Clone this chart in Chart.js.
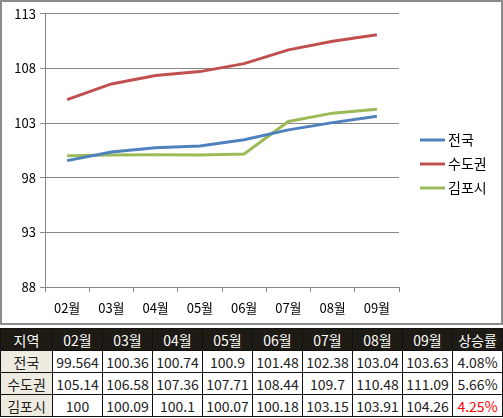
<!DOCTYPE html>
<html>
<head>
<meta charset="utf-8">
<script src="https://cdn.jsdelivr.net/npm/chart.js@4"></script>
<style>
  body { margin: 0; background: #fff; font-family: "Noto Sans CJK KR", sans-serif; }
  #frame { position: absolute; left: 0; top: 0; width: 499px; height: 321px; border: 2px solid #8c8c8c; background: #fff; }
  #wrap { position: absolute; left: 0; top: 0; width: 499px; height: 321px; }
  table { position: absolute; left: 0; top: 328px; border-collapse: collapse; font-size: 14px; }
  td, th { border: 1px solid #111; height: 21px; padding: 0; text-align: center; width: 49px; color: #222; font-weight: normal; }
  th { background: #1e1a14; color: #fff; }
  td.name { background: #eeece1; width: 51px; }
  td.red { color: #ff0000; }
</style>
</head>
<body>
<div id="frame"><div id="wrap"><canvas id="myChart1"></canvas></div></div>
<table id="tbl"></table>
<script>
const ctx = document.getElementById("myChart1").getContext("2d");

const months = ["02월", "03월", "04월", "05월", "06월", "07월", "08월", "09월"];
const regions = ["전국", "수도권", "김포시"];
const jeonguk = [99.564, 100.36, 100.74, 100.9, 101.48, 102.38, 103.04, 103.63];
const sudogwon = [105.14, 106.58, 107.36, 107.71, 108.44, 109.7, 110.48, 111.09];
const gimpo = [100, 100.09, 100.1, 100.07, 100.18, 103.15, 103.91, 104.26];
const riseRates = ["4.08%", "5.66%", "4.25%"];
const colors = ["#4f81bd", "#c0504d", "#9bbb59"];
const yTicks = [88, 93, 98, 103, 108, 113];

const FONT = '"Noto Sans CJK KR", sans-serif';

// legend drawn by hand, to the right of the plot
const sideLegend = {
  id: "sideLegend",
  afterDraw(chart) {
    const c = chart.ctx;
    const x0 = chart.chartArea.right + 21;
    c.save();
    c.font = "14px " + FONT;
    c.textBaseline = "middle";
    chart.data.datasets.forEach((ds, i) => {
      const y = 138 + i * 24;
      c.strokeStyle = ds.borderColor;
      c.lineWidth = 3;
      c.beginPath();
      c.moveTo(x0, y);
      c.lineTo(x0 + 25, y);
      c.stroke();
      c.fillStyle = "#000";
      c.fillText(ds.label, x0 + 28, y);
    });
    c.restore();
  },
};

const data = {
  labels: months,
  datasets: [jeonguk, sudogwon, gimpo].map((vals, i) => ({
    label: regions[i],
    data: vals,
    borderColor: colors[i],
    backgroundColor: colors[i],
    borderWidth: 3,
    pointRadius: 0,
    tension: 0,
  })),
};

const config = {
  type: "line",
  data: data,
  options: {
    responsive: true,
    maintainAspectRatio: false,
    animation: false,
    layout: { padding: { top: 8, right: 102, left: 0, bottom: 0 } },
    plugins: { legend: { display: false }, tooltip: { enabled: false } },
    scales: {
      x: {
        offset: true,
        grid: { offset: true, drawOnChartArea: false, color: "#868686", tickLength: 5 },
        border: { color: "#868686" },
        ticks: { color: "#000", font: { family: FONT, size: 13 }, padding: 8, maxRotation: 0 },
        afterFit(s) { s.height = 36; },
      },
      y: {
        min: 88,
        max: 113,
        afterBuildTicks(s) { s.ticks = yTicks.map(v => ({ value: v })); },
        grid: { color: "#868686", tickLength: 5 },
        border: { color: "#868686" },
        ticks: { color: "#000", font: { family: FONT, size: 13 }, padding: 4 },
        afterFit(s) { s.width = 43; },
      },
    },
  },
  plugins: [sideLegend],
};

const myChart1 = new Chart(ctx, config);

// data table under the chart
const tbl = document.getElementById("tbl");
let html = "<tr><th>지역</th>" + months.map(m => "<th>" + m + "</th>").join("") + "<th>상승률</th></tr>";
[jeonguk, sudogwon, gimpo].forEach((vals, i) => {
  html += '<tr><td class="name">' + regions[i] + "</td>" +
    vals.map(v => "<td>" + v + "</td>").join("") +
    "<td" + (i === 2 ? ' class="red"' : "") + ">" + riseRates[i] + "</td></tr>";
});
tbl.innerHTML = html;
</script>
</body>
</html>
